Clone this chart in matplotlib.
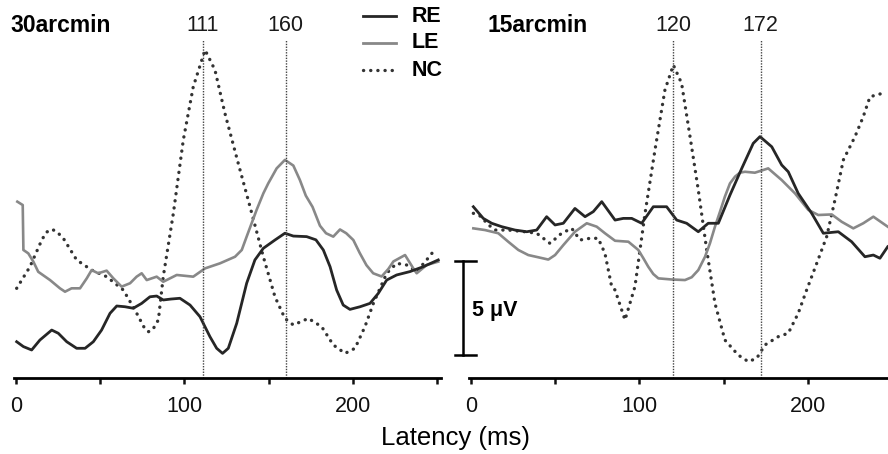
import matplotlib
matplotlib.use("Agg")
import matplotlib.pyplot as plt
from matplotlib.lines import Line2D

plt.rcParams['font.family'] = ['Liberation Sans', 'DejaVu Sans']

# ---- data (latency in ms, amplitude in uV) ----
# 30 arcmin panel
re30_t = [0.4, 4.4, 9.3, 14.2, 21.2, 25.1, 30.1, 36.0, 41.0, 45.9, 50.8, 55.8, 59.8, 64.7, 69.6,
          74.6, 79.5, 83.5, 87.4, 92.0, 97.3, 103.3, 109.2, 115.1, 119.1, 122.6, 126.0, 131.0,
          136.9, 141.8, 146.8, 153.7, 159.6, 164.6, 172.5, 178.0, 182.4, 186.4, 190.3, 194.2,
          198.2, 204.2, 210.1, 215.0, 220.0, 225.9, 233.8, 241.7, 250.6]
re30_v = [1.93, 1.67, 1.49, 2.02, 2.55, 2.38, 1.93, 1.58, 1.58, 1.93, 2.55, 3.44, 3.83, 3.79, 3.71,
          3.97, 4.32, 4.36, 4.15, 4.20, 4.24, 3.88, 3.26, 2.20, 1.58, 1.31, 1.58, 2.91,
          5.04, 6.28, 6.90, 7.34, 7.70, 7.55, 7.52, 7.35, 6.81, 5.92, 4.68, 3.88,
          3.65, 3.79, 3.97, 4.50, 5.21, 5.48, 5.66, 5.92, 6.28]

le30_t = [0.8, 4.0, 4.4, 7.3, 10.3, 13.2, 20.2, 26.1, 29.1, 33.0, 38.0, 42.0, 44.9, 48.8, 53.8,
          57.8, 62.7, 67.7, 71.6, 74.6, 77.6, 83.5, 87.4, 95.4, 105.2, 112.2, 121.1, 130.0,
          134.0, 136.9, 142.8, 146.8, 149.7, 154.7, 159.6, 164.6, 168.5, 172.0, 176.0, 180.4,
          184.0, 188.3, 192.3, 196.0, 200.2, 204.0, 208.0, 212.0, 217.0, 221.0, 224.0, 230.9,
          235.8, 237.8, 243.7, 250.6]
le30_v = [9.38, 9.20, 6.81, 6.63, 6.19, 5.65, 5.21, 4.77, 4.59, 4.77, 4.77, 5.30, 5.74, 5.57, 5.71,
          5.30, 4.86, 5.04, 5.39, 5.57, 5.21, 5.39, 5.12, 5.48, 5.39, 5.83, 6.10, 6.45,
          6.81, 7.52, 8.94, 9.82, 10.35, 11.15, 11.60, 11.30, 10.53, 9.70, 9.10, 8.10,
          7.70, 7.52, 7.90, 7.70, 7.34, 6.65, 6.00, 5.57, 5.40, 5.80, 6.20, 6.54,
          5.83, 5.57, 6.01, 6.19]

nc30_t = [0.4, 8.3, 15.3, 18.0, 21.2, 24.0, 28.1, 36.0, 44.9, 53.8, 63.7, 70.6, 76.0, 78.5, 81.0,
          84.5, 87.4, 93.4, 99.3, 105.2, 112.2, 118.1, 124.0, 131.9, 138.9, 146.8, 153.7, 159.6,
          164.6, 173.5, 181.4, 188.3, 195.3, 201.2, 207.1, 212.1, 220.0, 225.9, 231.9, 237.8,
          243.7, 248.7]
nc30_v = [4.77, 5.92, 7.34, 7.75, 7.91, 7.80, 7.43, 6.28, 5.74, 5.39, 4.68, 3.62, 2.70, 2.46, 2.55,
          3.09, 5.39, 8.76, 12.66, 15.49, 17.45, 16.38, 14.08, 11.42, 9.11, 6.45, 4.32, 3.17,
          2.82, 3.17, 2.73, 1.76, 1.31, 1.58, 2.73, 3.97, 5.57, 6.10, 6.01, 5.66,
          6.28, 6.84]

# 15 arcmin panel
re15_t = [1.4, 7.3, 12.3, 18.2, 26.1, 33.1, 39.0, 44.9, 49.9, 54.8, 61.7, 67.7, 72.6, 77.6, 85.5,
          90.4, 95.4, 101.3, 108.2, 116.1, 122.1, 128.0, 134.9, 140.8, 146.8, 153.7, 160.7,
          167.5, 171.5, 178.5, 184.4, 188.3, 194.2, 202.2, 209.1, 218.0, 225.9, 233.8, 238.8,
          242.7, 247.3]
re15_v = [9.11, 8.49, 8.23, 8.05, 7.87, 7.78, 7.87, 8.58, 8.14, 8.23, 9.02, 8.58, 8.85, 9.38, 8.40,
          8.49, 8.49, 8.23, 9.11, 9.11, 8.40, 8.23, 7.78, 8.23, 8.23, 9.73, 11.15,
          12.48, 12.84, 12.30, 11.33, 10.97, 9.82, 8.76, 7.70, 7.78, 7.25, 6.45, 6.54,
          6.37, 6.98]

le15_t = [1.4, 8.3, 16.2, 22.1, 28.1, 34.0, 40.0, 45.9, 49.9, 54.8, 61.7, 68.7, 74.6, 79.5, 85.5,
          93.4, 99.3, 102.3, 105.2, 108.2, 111.2, 119.1, 127.0, 131.0, 134.9, 138.9, 141.8,
          144.8, 147.8, 150.7, 153.7, 156.7, 159.6, 162.6, 168.5, 176.4, 184.4, 192.3, 200.2,
          206.1, 214.1, 220.0, 226.9, 232.8, 238.8, 247.3]
le15_v = [7.96, 7.87, 7.70, 7.25, 6.81, 6.54, 6.42, 6.30, 6.54, 7.07, 7.78, 8.23, 8.05, 7.70, 7.30,
          7.25, 6.81, 6.37, 5.92, 5.53, 5.30, 5.24, 5.21, 5.36, 5.74, 6.45, 7.16,
          8.05, 8.85, 9.65, 10.35, 10.71, 10.92, 10.97, 10.92, 11.15, 10.53, 9.82, 8.94,
          8.67, 8.70, 8.31, 7.96, 8.23, 8.58, 8.05]

nc15_t = [1.4, 6.3, 9.3, 14.2, 22.1, 32.0, 39.0, 46.9, 53.8, 59.8, 64.7, 70.6, 75.5, 79.5, 83.5,
          85.5, 91.4, 97.3, 103.3, 109.2, 115.1, 120.1, 125.0, 130.0, 134.9, 139.9, 144.8,
          150.7, 158.6, 164.6, 169.6, 174.5, 182.4, 188.3, 194.2, 199.2, 205.2, 211.1, 216.0,
          221.0, 227.9, 232.8, 236.8, 245.7]
nc15_v = [8.76, 8.58, 8.23, 7.87, 7.87, 7.78, 7.70, 7.16, 7.70, 7.96, 7.34, 7.43, 7.43, 6.63, 4.86,
          4.68, 3.09, 4.86, 8.76, 12.13, 15.32, 16.65, 15.67, 12.84, 10.00, 6.81, 3.97,
          2.02, 1.22, 0.87, 1.05, 1.76, 2.20, 2.38, 3.44, 4.68, 6.10, 7.52, 9.47,
          11.60, 12.84, 13.90, 14.96, 15.18]

panel_titles = ['30arcmin', '15arcmin']
peak_lat = [[111, 160], [120, 172]]
series_names = ['RE', 'LE', 'NC']

RE_COL = '#262626'
LE_COL = '#888888'
NC_COL = '#333333'
DOTS = (0, (0.05, 2.1))

W, H = 888, 454
fig = plt.figure(figsize=(W / 100, H / 100), dpi=100)

ax_l = fig.add_axes([14.3 / W, 76 / H, 426.3 / W, 366.6 / H])
ax_r = fig.add_axes([469.3 / W, 76 / H, 426.3 / W, 366.6 / H])

panels = [
    (ax_l, re30_t, re30_v, le30_t, le30_v, nc30_t, nc30_v),
    (ax_r, re15_t, re15_v, le15_t, le15_v, nc15_t, nc15_v),
]

for i, (ax, ret, rev, let, lev, nct, ncv) in enumerate(panels):
    ax.plot(nct, ncv, color=NC_COL, lw=2.4, linestyle=DOTS, dash_capstyle='round')
    ax.plot(let, lev, color=LE_COL, lw=1.9, solid_joinstyle='round')
    ax.plot(ret, rev, color=RE_COL, lw=2.0, solid_joinstyle='round')

    # peak latency markers
    for lat in peak_lat[i]:
        ax.plot([lat, lat], [0, 18.0], color='#444444', lw=1.0, linestyle=(0, (1, 1)))
        ax.text(lat, 18.75, str(lat), ha='center', va='center', fontsize=15.5, color='#1a1a1a',
                clip_on=False)

    ax.set_xlim(-1, 252)
    ax.set_ylim(0, 19.5)
    for side in ['left', 'right', 'top']:
        ax.spines[side].set_visible(False)
    ax.spines['bottom'].set_linewidth(2.0)
    ax.set_yticks([])
    ax.set_xticks([0, 100, 200])
    ax.set_xticks([50, 150, 250], minor=True)
    ax.tick_params(axis='x', which='both', direction='out', length=4, width=1.8,
                   labelsize=15.5, pad=9, colors='#111111')
    ax.patch.set_alpha(0)

fig.text(10 / W, 1 - 25 / H, panel_titles[0], fontsize=16.5, fontweight='bold', va='center', ha='left')
fig.text(487 / W, 1 - 25 / H, panel_titles[1], fontsize=16.5, fontweight='bold', va='center', ha='left')

# legend
leg_y = [16, 43, 70]
leg_style = [dict(color=RE_COL, lw=2.0), dict(color=LE_COL, lw=2.0),
             dict(color=NC_COL, lw=2.4, linestyle=DOTS, dash_capstyle='round')]
for name, yy, st in zip(series_names, leg_y, leg_style):
    fig.add_artist(Line2D([363 / W, 396 / W], [1 - yy / H, 1 - yy / H], transform=fig.transFigure, **st))
    fig.text(412 / W, 1 - yy / H, name, fontsize=15.5, fontweight='bold', va='center', ha='left')

# 5 uV scale bar (in right panel data coordinates)
ax_r.plot([-4.75, -4.75], [1.22, 6.22], color='black', lw=1.8, clip_on=False)
ax_r.plot([-9.5, 3.0], [6.22, 6.22], color='black', lw=1.8, clip_on=False)
ax_r.plot([-9.5, 3.0], [1.22, 1.22], color='black', lw=1.8, clip_on=False)
ax_r.text(0.5, 3.6, '5 μV', fontsize=15.5, fontweight='bold', va='center', ha='left', clip_on=False)

fig.text(455 / W, 1 - 438 / H, 'Latency (ms)', fontsize=18.5, ha='center', va='center')

fig.savefig('out.png', dpi=100)
